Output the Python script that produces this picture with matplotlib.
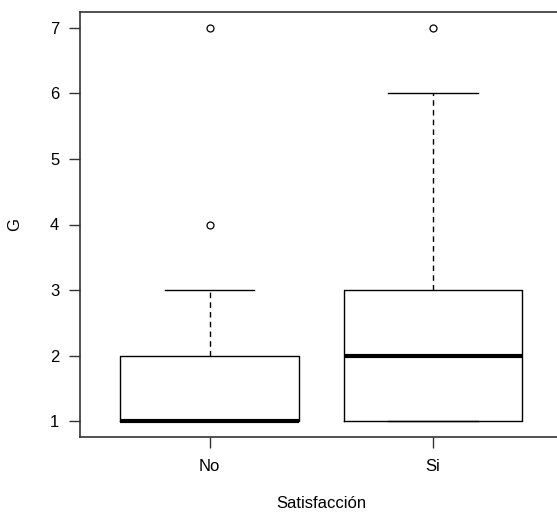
import matplotlib.pyplot as plt

plt.rcParams['font.family'] = ['Liberation Sans', 'DejaVu Sans']

# grupos y resumen de cinco numeros
grupos = ["No", "Si"]
q1 = [1, 1]
mediana = [1, 2]
q3 = [2, 3]
bigote_bajo = [1, 1]
bigote_alto = [3, 6]
atipicos = [[4, 7], [7]]

stats = []
for i in range(len(grupos)):
    stats.append(dict(label=grupos[i], q1=q1[i], med=mediana[i], q3=q3[i],
                      whislo=bigote_bajo[i], whishi=bigote_alto[i], fliers=atipicos[i]))

fig = plt.figure(figsize=(5.57, 5.12), dpi=100)
ax = fig.add_axes([80 / 557, 75 / 512, 1.0 - 80 / 557 + 0.01, 425 / 512])

ax.bxp(stats, positions=[1, 2], widths=0.8, showfliers=True,
       boxprops=dict(color='black', linewidth=1),
       medianprops=dict(color='black', linewidth=3, solid_capstyle='butt'),
       whiskerprops=dict(color='black', linewidth=1, linestyle=(0, (4, 3))),
       capprops=dict(color='black', linewidth=1),
       capwidths=0.4,
       flierprops=dict(marker='o', markerfacecolor='none', markeredgecolor='black',
                       markersize=5, markeredgewidth=0.9))

ax.set_xlim(0.42, 2.58)
ax.set_ylim(0.76, 7.24)
ax.set_yticks(range(1, 8))
ax.set_xticks([1, 2])
ax.set_xticklabels(grupos)
ax.tick_params(axis='both', length=8, width=1, labelsize=12, color='#333333')
ax.tick_params(axis='y', pad=7)
ax.tick_params(axis='x', pad=8)
for s in ax.spines.values():
    s.set_color('#333333')
    s.set_linewidth(1.2)

ax.set_xlabel("Satisfacción", fontsize=12, labelpad=16)
ax.set_ylabel("G", fontsize=12, labelpad=20)

fig.savefig("out.png", dpi=100)
